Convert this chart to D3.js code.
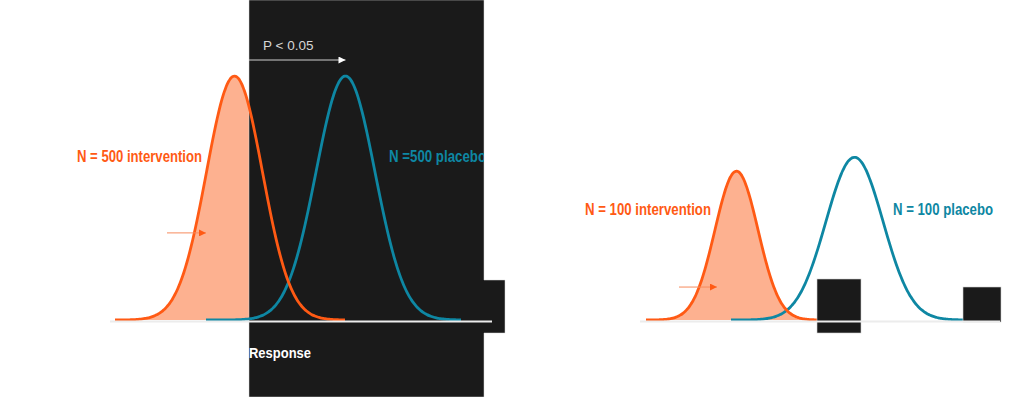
<!DOCTYPE html>
<html>
<head>
<meta charset="utf-8">
<script src="https://cdn.jsdelivr.net/npm/d3@7"></script>
<style>
  html, body { margin: 0; padding: 0; background: #fff; }
  svg { display: block; }
</style>
</head>
<body>
<div id="svg-container"></div>
<script>
// data (response units, relative density)
const panelNames = ['N = 500', 'N = 100']
const interventionMean = [23.45, 22.45]
const interventionSd = [2.8, 2.15]
const interventionPeak = [1, 0.61]
const interventionSpan = [[11.5, 34.5], [13.4, 30.5]]
const placeboMean = [34.55, 34.25]
const placeboSd = [2.95, 2.85]
const placeboPeak = [1, 0.667]
const placeboSpan = [[20.6, 46.1], [21.9, 45.1]]
const interventionLabels = ['N = 500 intervention', 'N = 100 intervention']
const placeboLabels = ['N =500 placebo', 'N = 100 placebo']
const pLabel = 'P < 0.05'
const threshold = 24.9
const axisLabel = 'Response'

// dimensions
const dim = { width: 1024, height: 397, panelWidth: 512 }

// layout (response units / relative density / px widths)
const layout = {
    interventionLabelEnd: [20.2, 19.9],
    placeboLabelStart: [38.9, 38.1],
    labelY: [0.648, 0.43],
    interventionLabelWidth: [125, 126],
    placeboLabelWidth: [97, 100],
    pointer: [[16.7, 20.6, 0.357], [16.7, 20.5, 0.135]]
}

const colors = {
    intervention: '#ff5a14',
    fill: '#fdb190',
    placebo: '#0e87a3',
    dark: '#1a1a1a'
}

const svg = d3.select('#svg-container')
    .append('svg')
        .attr('width', dim.width)
        .attr('height', dim.height)

const defs = svg.append('defs')

defs.append('marker')
    .attr('id', 'head-white')
    .attr('viewBox', '0 0 10 10')
    .attr('refX', 10).attr('refY', 5)
    .attr('markerWidth', 8).attr('markerHeight', 7)
    .attr('markerUnits', 'userSpaceOnUse')
    .attr('orient', 'auto')
    .append('path').attr('d', 'M0,0L10,5L0,10Z').attr('fill', '#fff')

defs.append('marker')
    .attr('id', 'head-orange')
    .attr('viewBox', '0 0 10 10')
    .attr('refX', 10).attr('refY', 5)
    .attr('markerWidth', 7).attr('markerHeight', 7)
    .attr('markerUnits', 'userSpaceOnUse')
    .attr('orient', 'auto')
    .append('path').attr('d', 'M0,0L10,5L0,10Z').attr('fill', colors.intervention)

defs.append('clipPath').attr('id', 'clip-left')
    .append('rect').attr('x', 0).attr('y', 0).attr('width', 484).attr('height', dim.height)

// scales
const yScale = d3.scaleLinear()
    .domain([0, 1])
    .range([320, 76])

const xScales = panelNames.map((d, i) => d3.scaleLinear()
    .domain([0, 51.2])
    .range([i * dim.panelWidth, (i + 1) * dim.panelWidth]))

function bell(mean, sd, peak, span) {
    const step = (span[1] - span[0]) / 160
    return d3.range(span[0], span[1] + step / 2, step)
        .map(v => ({ x: v, y: peak * Math.exp(-0.5 * ((v - mean) / sd) ** 2) }))
}

const labelFont = '"Liberation Sans", Arial, sans-serif'

panelNames.forEach((name, i) => {
    const x = xScales[i]
    const g = svg.append('g').attr('class', 'panel')

    const line = d3.line().x(d => x(d.x)).y(d => yScale(d.y)).curve(d3.curveBasis)
    const area = d3.area().x(d => x(d.x)).y0(yScale(0)).y1(d => yScale(d.y)).curve(d3.curveBasis)

    const inter = bell(interventionMean[i], interventionSd[i], interventionPeak[i], interventionSpan[i])
    const plac = bell(placeboMean[i], placeboSd[i], placeboPeak[i], placeboSpan[i])

    // shaded intervention distribution
    g.append('path')
        .attr('d', area(inter))
        .attr('fill', colors.fill)

    if (i === 0) {
        // dark backdrop right of the threshold
        g.append('path')
            .attr('d', `M${x(threshold)},0H484V280H505V333H484V${dim.height}H${x(threshold)}Z`)
            .attr('fill', colors.dark)
            .attr('stroke', '#d8d8d8')
            .attr('stroke-width', 0.5)

        // significance arrow
        g.append('line')
            .attr('x1', x(threshold)).attr('x2', x(placeboMean[i]))
            .attr('y1', 60).attr('y2', 60)
            .attr('stroke', '#cfcfcf')
            .attr('stroke-width', 1)
            .attr('marker-end', 'url(#head-white)')

        g.append('text')
            .attr('x', 263).attr('y', 50)
            .attr('fill', '#d6d6d6')
            .style('font-family', labelFont)
            .style('font-size', '13.5px')
            .text(pLabel)

        g.append('text')
            .attr('x', x(threshold)).attr('y', 358)
            .attr('fill', '#fff')
            .attr('textLength', 62)
            .attr('lengthAdjust', 'spacingAndGlyphs')
            .style('font-family', labelFont)
            .style('font-weight', 'bold')
            .style('font-size', '15px')
            .text(axisLabel)
    }

    // curves
    g.append('path')
        .attr('d', line(plac))
        .attr('fill', 'none')
        .attr('stroke', colors.placebo)
        .attr('stroke-width', 2.8)

    g.append('path')
        .attr('d', line(inter))
        .attr('fill', 'none')
        .attr('stroke', colors.intervention)
        .attr('stroke-width', 2.8)

    // pointer arrow
    const p = layout.pointer[i]
    g.append('line')
        .attr('x1', x(p[0])).attr('x2', x(p[1]))
        .attr('y1', yScale(p[2])).attr('y2', yScale(p[2]))
        .attr('stroke', '#f78a5c')
        .attr('stroke-width', 1)
        .attr('marker-end', 'url(#head-orange)')

    if (i === 1) {
        // dark blocks
        g.append('rect')
            .attr('x', 817).attr('y', 279).attr('width', 44).attr('height', 54)
            .attr('fill', colors.dark).attr('stroke', '#cfcfcf').attr('stroke-width', 0.6)
        g.append('rect')
            .attr('x', 963).attr('y', 287).attr('width', 38).attr('height', 35)
            .attr('fill', colors.dark).attr('stroke', '#cfcfcf').attr('stroke-width', 0.6)
    }

    // baseline
    g.append('line')
        .attr('x1', i === 0 ? 110 : 640).attr('x2', i === 0 ? 492 : 1000)
        .attr('y1', 321.5).attr('y2', 321.5)
        .attr('stroke', '#ececec')
        .attr('stroke-width', 2)

    // labels
    g.append('text')
        .attr('x', x(layout.interventionLabelEnd[i]) - layout.interventionLabelWidth[i])
        .attr('y', yScale(layout.labelY[i]))
        .attr('textLength', layout.interventionLabelWidth[i])
        .attr('lengthAdjust', 'spacingAndGlyphs')
        .attr('fill', colors.intervention)
        .style('font-family', labelFont)
        .style('font-weight', 'bold')
        .style('font-size', '16px')
        .text(interventionLabels[i])

    g.append('text')
        .attr('x', x(layout.placeboLabelStart[i]))
        .attr('y', yScale(layout.labelY[i]))
        .attr('textLength', layout.placeboLabelWidth[i])
        .attr('lengthAdjust', 'spacingAndGlyphs')
        .attr('clip-path', i === 0 ? 'url(#clip-left)' : null)
        .attr('fill', colors.placebo)
        .style('font-family', labelFont)
        .style('font-weight', 'bold')
        .style('font-size', '16px')
        .text(placeboLabels[i])
})
</script>
</body>
</html>
